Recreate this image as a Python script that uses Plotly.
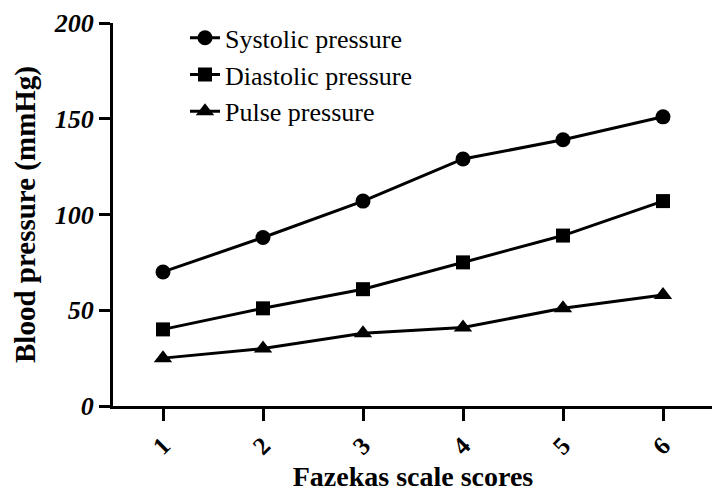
import plotly.graph_objects as go

# Fazekas scale scores vs blood pressure
scores = [1, 2, 3, 4, 5, 6]
systolic = [70, 88, 107, 129, 139, 151]
diastolic = [40, 51, 61, 75, 89, 107]
pulse = [25, 30, 38, 41, 51, 58]

y_ticks = [0, 50, 100, 150, 200]

serif = "Liberation Serif"

fig = go.Figure()
fig.add_scatter(x=scores, y=systolic, mode='lines+markers', name='Systolic pressure',
                line=dict(color='black', width=3),
                marker=dict(symbol='circle', size=15, color='black'))
fig.add_scatter(x=scores, y=diastolic, mode='lines+markers', name='Diastolic pressure',
                line=dict(color='black', width=3),
                marker=dict(symbol='square', size=14, color='black'))
fig.add_scatter(x=scores, y=pulse, mode='lines+markers', name='Pulse pressure',
                line=dict(color='black', width=3),
                marker=dict(symbol='triangle-up', size=16, color='black'))

# page body has a default 8px margin, so the figure is a bit smaller than the window
fig.update_layout(
    width=712, height=489,
    margin=dict(l=105, r=7, t=14, b=91),
    paper_bgcolor='white', plot_bgcolor='white',
    font=dict(family=serif, color='black'),
    legend=dict(x=0.12, y=1.02, xanchor='left', yanchor='top',
                bgcolor='rgba(0,0,0,0)',
                font=dict(family=serif, size=26, color='black'),
                tracegroupgap=0),
)
fig.update_xaxes(
    range=[0.5, 6.5], tickvals=scores, ticktext=[str(s) for s in scores],
    showgrid=False, zeroline=False, automargin=False,
    showline=True, linecolor='black', linewidth=3,
    ticks='outside', ticklen=12, tickwidth=3, tickcolor='black',
    tickangle=-45, ticklabeloverflow='allow',
    tickfont=dict(family=serif, size=25, weight='bold'),
    title=dict(text='Fazekas scale scores', standoff=8,
               font=dict(family=serif, size=28, weight='bold')),
)
fig.update_yaxes(
    range=[0, 200], tickvals=y_ticks,
    showgrid=False, zeroline=False, automargin=False,
    showline=True, linecolor='black', linewidth=3,
    ticks='outside', ticklen=11, tickwidth=3, tickcolor='black',
    ticklabeloverflow='allow',
    tickfont=dict(family=serif, size=26, weight='bold', style='italic'),
    title=dict(text='Blood pressure (mmHg)', standoff=10,
               font=dict(family=serif, size=29, weight='bold')),
)

fig.write_html("out.html")
